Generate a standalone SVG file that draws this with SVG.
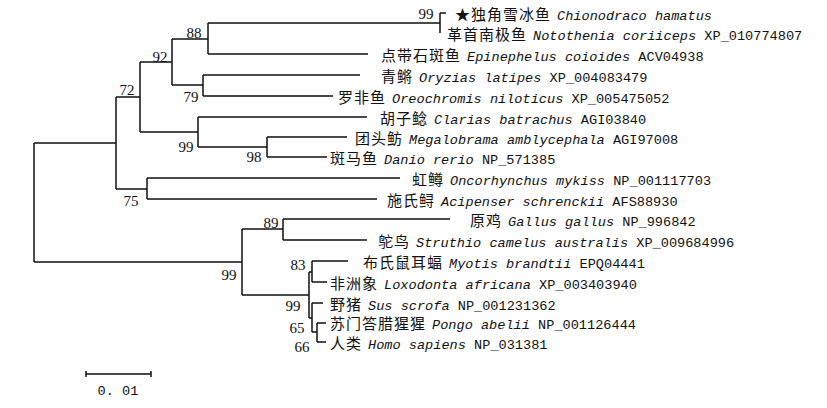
<svg xmlns="http://www.w3.org/2000/svg" width="827" height="408" viewBox="0 0 827 408">
<style>
.br{fill:none;stroke:#111;stroke-width:1.5}
.cn{font-family:"Noto Sans CJK SC","Noto Sans",sans-serif;font-size:15px;letter-spacing:1px;fill:#111}
.la{font-family:"Liberation Mono",monospace;font-size:13.6px;fill:#111}
.it{font-style:italic}
.bs{font-family:"Liberation Serif",serif;font-size:15px;fill:#111;text-anchor:middle}
</style>
<rect width="827" height="408" fill="#fff"/>
<g id="connectors">
<path class="br" d="M34,143V262M34,143H116M34,262H242"/>
<path class="br" d="M116,97V189M116,97H140M116,189H147"/>
<path class="br" d="M140,62V132M140,62H172M140,132H198"/>
<path class="br" d="M172,39V85M172,39H208M172,85H203"/>
<path class="br" d="M208,23V54M208,23H440M208,54H368"/>
<path class="br" d="M440,13V33M440,13H446"/>
<path class="br" d="M203,75V96M203,75H360M203,96H333"/>
<path class="br" d="M198,117V147M198,117H367M198,147H267"/>
<path class="br" d="M267,137V157M267,137H347M267,157H327"/>
<path class="br" d="M147,178V199M147,178H400M147,199H377"/>
<path class="br" d="M242,229V295M242,229H283M242,295H309"/>
<path class="br" d="M283,219V240M283,219H450M283,240H367"/>
<path class="br" d="M309,272V318M309,272H312M309,318H312"/>
<path class="br" d="M312,261V282M312,261H348M312,282H327"/>
<path class="br" d="M312,303V332M312,303H323M312,332H317"/>
<path class="br" d="M317,323V342M317,323H326M317,342H326"/>
<path class="br" d="M86,374H151M86,371V377M151,371V377"/>
</g>
<g id="n_root"/>
<g id="n72"><text class="bs" x="127" y="95">72</text></g>
<g id="n92"><text class="bs" x="160" y="62">92</text></g>
<g id="n88"><text class="bs" x="194" y="38">88</text></g>
<g id="n99a"><text class="bs" x="426" y="19">99</text></g>
<g id="n79"><text class="bs" x="191" y="102">79</text></g>
<g id="n99b"><text class="bs" x="186" y="152">99</text></g>
<g id="n98"><text class="bs" x="254" y="162">98</text></g>
<g id="n75"><text class="bs" x="131" y="206">75</text></g>
<g id="n89"><text class="bs" x="271" y="228">89</text></g>
<g id="n99c"><text class="bs" x="229" y="280">99</text></g>
<g id="n83"><text class="bs" x="298" y="270">83</text></g>
<g id="n99d"><text class="bs" x="293" y="311">99</text></g>
<g id="n65"><text class="bs" x="297" y="333">65</text></g>
<g id="n66"><text class="bs" x="302" y="352">66</text></g>
<g id="leaf1"><text y="20"><tspan class="cn" x="455">★独角雪冰鱼</tspan><tspan class="la it" x="557">Chionodraco hamatus</tspan></text></g>
<g id="leaf2"><text y="40"><tspan class="cn" x="447">革首南极鱼</tspan><tspan class="la" x="533"><tspan class="it">Notothenia coriiceps</tspan> XP_010774807</tspan></text></g>
<g id="leaf3"><text y="61"><tspan class="cn" x="381">点带石斑鱼</tspan><tspan class="la" x="467"><tspan class="it">Epinephelus coioides</tspan> ACV04938</tspan></text></g>
<g id="leaf4"><text y="82"><tspan class="cn" x="381">青鳉</tspan><tspan class="la" x="419"><tspan class="it">Oryzias latipes</tspan> XP_004083479</tspan></text></g>
<g id="leaf5"><text y="103"><tspan class="cn" x="338">罗非鱼</tspan><tspan class="la" x="392"><tspan class="it">Oreochromis niloticus</tspan> XP_005475052</tspan></text></g>
<g id="leaf6"><text y="124"><tspan class="cn" x="380">胡子鲶</tspan><tspan class="la" x="434"><tspan class="it">Clarias batrachus</tspan> AGI03840</tspan></text></g>
<g id="leaf7"><text y="144"><tspan class="cn" x="355">团头鲂</tspan><tspan class="la" x="409"><tspan class="it">Megalobrama amblycephala</tspan> AGI97008</tspan></text></g>
<g id="leaf8"><text y="164"><tspan class="cn" x="330">斑马鱼</tspan><tspan class="la" x="384"><tspan class="it">Danio rerio</tspan> NP_571385</tspan></text></g>
<g id="leaf9"><text y="185"><tspan class="cn" x="412">虹鳟</tspan><tspan class="la" x="450"><tspan class="it">Oncorhynchus mykiss</tspan> NP_001117703</tspan></text></g>
<g id="leaf10"><text y="206"><tspan class="cn" x="387">施氏鲟</tspan><tspan class="la" x="441"><tspan class="it">Acipenser schrenckii</tspan> AFS88930</tspan></text></g>
<g id="leaf11"><text y="226"><tspan class="cn" x="470">原鸡</tspan><tspan class="la" x="508"><tspan class="it">Gallus gallus</tspan> NP_996842</tspan></text></g>
<g id="leaf12"><text y="247"><tspan class="cn" x="378">鸵鸟</tspan><tspan class="la" x="416"><tspan class="it">Struthio camelus australis</tspan> XP_009684996</tspan></text></g>
<g id="leaf13"><text y="268"><tspan class="cn" x="363">布氏鼠耳蝠</tspan><tspan class="la" x="449"><tspan class="it">Myotis brandtii</tspan> EPQ04441</tspan></text></g>
<g id="leaf14"><text y="289"><tspan class="cn" x="330">非洲象</tspan><tspan class="la" x="384"><tspan class="it">Loxodonta africana</tspan> XP_003403940</tspan></text></g>
<g id="leaf15"><text y="310"><tspan class="cn" x="330">野猪</tspan><tspan class="la" x="368"><tspan class="it">Sus scrofa</tspan> NP_001231362</tspan></text></g>
<g id="leaf16"><text y="329"><tspan class="cn" x="330">苏门答腊猩猩</tspan><tspan class="la" x="432"><tspan class="it">Pongo abelii</tspan> NP_001126444</tspan></text></g>
<g id="leaf17"><text y="349"><tspan class="cn" x="330">人类</tspan><tspan class="la" x="368"><tspan class="it">Homo sapiens</tspan> NP_031381</tspan></text></g>
<g id="scale"><text class="la" x="118" y="395" text-anchor="middle">0. 01</text></g>
</svg>
